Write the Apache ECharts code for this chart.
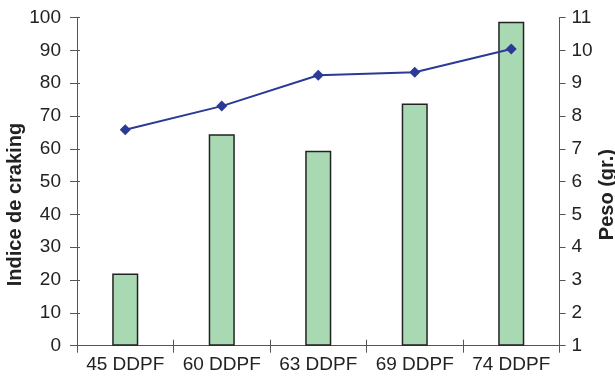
<!DOCTYPE html>
<html>
<head>
<meta charset="utf-8">
<script src="https://cdn.jsdelivr.net/npm/echarts@6/dist/echarts.min.js"></script>
<style>
  html, body { margin: 0; padding: 0; background: #fff; }
  #chart { width: 615px; height: 382px; }
</style>
</head>
<body>
<div id="chart"></div>
<script>
// Sampling dates (days after full flowering)
const categories = ['45 DDPF', '60 DDPF', '63 DDPF', '69 DDPF', '74 DDPF'];
// Cracking index, left axis
const crackingIndex = [22, 64.4, 59.4, 73.8, 98.7];
// Fruit weight in grams, right axis
const weight = [7.58, 8.30, 9.24, 9.33, 10.04];

const FONT = '"Liberation Sans", Arial, sans-serif';
const AXIS_COLOR = '#555';
const TEXT_COLOR = '#222';

const chart = echarts.init(document.getElementById('chart'), null, { renderer: 'canvas' });

const grid = { left: 77, right: 55.5, top: 17.5, bottom: 36.3, containLabel: false, outerBoundsMode: 'none' };

chart.setOption({
  animation: false,
  backgroundColor: '#fff',
  grid: grid,
  xAxis: [
    {
      type: 'category',
      data: categories,
      axisLine: { lineStyle: { color: AXIS_COLOR, width: 1 } },
      axisTick: { show: true, length: 7, inside: false, lineStyle: { color: AXIS_COLOR } },
      axisLabel: { color: TEXT_COLOR, fontFamily: FONT, fontSize: 19, margin: 10, interval: 0, hideOverlap: false },
      splitLine: { show: false }
    },
    {
      // inner half of the crossing category ticks
      type: 'category',
      data: categories,
      position: 'bottom',
      axisLine: { show: false },
      axisTick: { show: true, length: 6, inside: true, lineStyle: { color: AXIS_COLOR } },
      axisLabel: { show: false },
      splitLine: { show: false }
    }
  ],
  yAxis: [
    {
      type: 'value',
      min: 0, max: 100, interval: 10,
      position: 'left',
      name: 'Indice de craking',
      nameLocation: 'middle',
      nameRotate: 90,
      nameGap: 52,
      nameMoveOverlap: false,
      nameTextStyle: {
        color: TEXT_COLOR, fontFamily: FONT, fontSize: 20, fontWeight: 'bold',
        padding: [0, 46, 0, 0]
      },
      axisLine: { show: true, lineStyle: { color: AXIS_COLOR } },
      axisTick: { show: true, length: 7, lineStyle: { color: AXIS_COLOR } },
      axisLabel: { color: TEXT_COLOR, fontFamily: FONT, fontSize: 19, margin: 16 },
      splitLine: { show: false }
    },
    {
      type: 'value',
      min: 1, max: 11, interval: 1,
      position: 'right',
      name: 'Peso (gr.)',
      nameLocation: 'middle',
      nameRotate: 90,
      nameGap: 38,
      nameMoveOverlap: false,
      nameTextStyle: {
        color: TEXT_COLOR, fontFamily: FONT, fontSize: 20, fontWeight: 'bold',
        padding: [0, 26, 0, 0]
      },
      axisLine: { show: true, lineStyle: { color: AXIS_COLOR } },
      axisTick: { show: true, length: 6, lineStyle: { color: AXIS_COLOR } },
      axisLabel: { color: TEXT_COLOR, fontFamily: FONT, fontSize: 19, margin: 12 },
      splitLine: { show: false }
    },
    {
      // inner half of the crossing ticks on the left axis
      type: 'value',
      min: 0, max: 100, interval: 10,
      position: 'left',
      axisLine: { show: false },
      axisTick: { show: true, length: 3, inside: true, lineStyle: { color: AXIS_COLOR } },
      axisLabel: { show: false },
      splitLine: { show: false }
    }
  ],
  series: [
    {
      name: 'Indice de craking',
      type: 'bar',
      xAxisIndex: 0,
      yAxisIndex: 0,
      data: crackingIndex,
      barWidth: '27%',
      itemStyle: { color: '#a9d9b2', borderColor: '#222', borderWidth: 1.5 },
      z: 2
    },
    {
      name: 'Peso (gr.)',
      type: 'line',
      xAxisIndex: 0,
      yAxisIndex: 1,
      data: weight,
      symbol: 'diamond',
      symbolSize: 11,
      lineStyle: { color: '#2b3a96', width: 2 },
      itemStyle: { color: '#2b3a96' },
      z: 3
    }
  ]
});
</script>
</body>
</html>
